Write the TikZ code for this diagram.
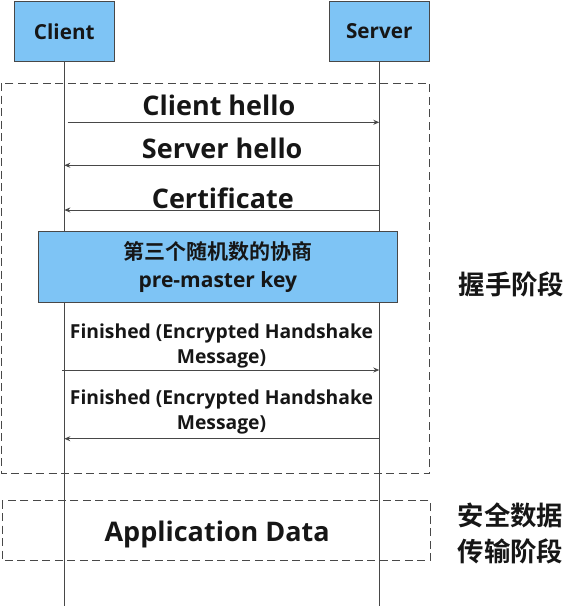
\documentclass[tikz,border=0pt]{standalone}
\usepackage{fontspec}
\setmainfont{Open Sans}
\newfontfamily\cjk{Noto Sans CJK SC}[BoldFont={Noto Sans CJK SC Bold}]
\usetikzlibrary{arrows.meta}
\definecolor{boxblue}{RGB}{126,196,245}
\definecolor{linegray}{RGB}{72,72,72}
\definecolor{textdark}{RGB}{22,22,22}

\tikzset{
  actor/.style={draw=linegray, line width=1pt, fill=boxblue, minimum width=100.4pt,
    minimum height=59.6pt, inner sep=0pt, text=textdark, font=\fontsize{20.7}{20.7}\selectfont\bfseries},
  lifeline/.style={draw=linegray, line width=1pt},
  msg/.style={draw=linegray, line width=1pt, -{Stealth[length=6pt,width=5pt]}},
  phasebox/.style={draw=linegray, line width=1pt, dash pattern=on 8pt off 4.5pt},
  biglabel/.style={text=textdark, inner sep=0pt, anchor=base, font=\fontsize{27}{27}\selectfont\bfseries},
  smalllabel/.style={text=textdark, inner sep=0pt, align=center, font=\fontsize{19.3}{25}\selectfont\bfseries},
  phaselabel/.style={text=textdark, inner sep=0pt, align=center, font=\cjk\fontsize{26.4}{36.3}\selectfont\bfseries}
}

\begin{document}
\begin{tikzpicture}[x=1pt, y=-1pt]
  \useasboundingbox (0,0) rectangle (578,606);

  % actors and lifelines
  \node[actor] (client) at (64.3,31.5) {Client};
  \node[actor] (server) at (379.3,31.5) {Server};
  \coordinate (clientend) at (64.3,606);
  \coordinate (serverend) at (379.3,606);
  \draw[lifeline] (client.south) -- (clientend);
  \draw[lifeline] (server.south) -- (serverend);

  % phases
  \draw[phasebox] (1.7,83) rectangle (429.3,473.7);
  \draw[phasebox] (2.3,500.7) rectangle (430.3,560.7);
  \node[phaselabel] (handshake) at (511.5,284.2) {握手阶段};
  \node[phaselabel] (transfer) at (510.5,533.2) {安全数据\\传输阶段};

  % messages
  \coordinate (c1) at (67.7,122.3);  \coordinate (s1) at (379.3,122.3);
  \coordinate (c2) at (64.3,165.3);  \coordinate (s2) at (379.3,165.3);
  \coordinate (c3) at (64.3,210);    \coordinate (s3) at (379.3,210);
  \coordinate (c4) at (62.3,370);    \coordinate (s4) at (379.3,370);
  \coordinate (c5) at (64.3,438.7);  \coordinate (s5) at (379.3,438.7);

  \node[biglabel] (clienthello) at (218.9,115) {Client hello};
  \draw[msg] (c1) -- (s1);
  \node[biglabel] (serverhello) at (222.2,158.3) {Server hello};
  \draw[msg] (s2) -- (c2);
  \node[biglabel] (certificate) at (222.8,208.3) {Certificate};
  \draw[msg] (s3) -- (c3);

  \node[draw=linegray, line width=1pt, fill=boxblue, minimum width=359pt, minimum height=71.3pt,
    inner sep=0pt, align=center, text=textdark, font=\fontsize{21}{28}\selectfont\bfseries]
    (premaster) at (217.8,266.7)
    {{\cjk\bfseries 第三个随机数的协商}\\pre-master key};

  \node[smalllabel] (finished1) at (221.5,346) {Finished (Encrypted Handshake\\Message)};
  \draw[msg] (c4) -- (s4);
  \node[smalllabel] (finished2) at (221.5,412) {Finished (Encrypted Handshake\\Message)};
  \draw[msg] (s5) -- (c5);

  \node[biglabel] (appdata) at (217.2,541.7) {Application Data};
\end{tikzpicture}
\end{document}
